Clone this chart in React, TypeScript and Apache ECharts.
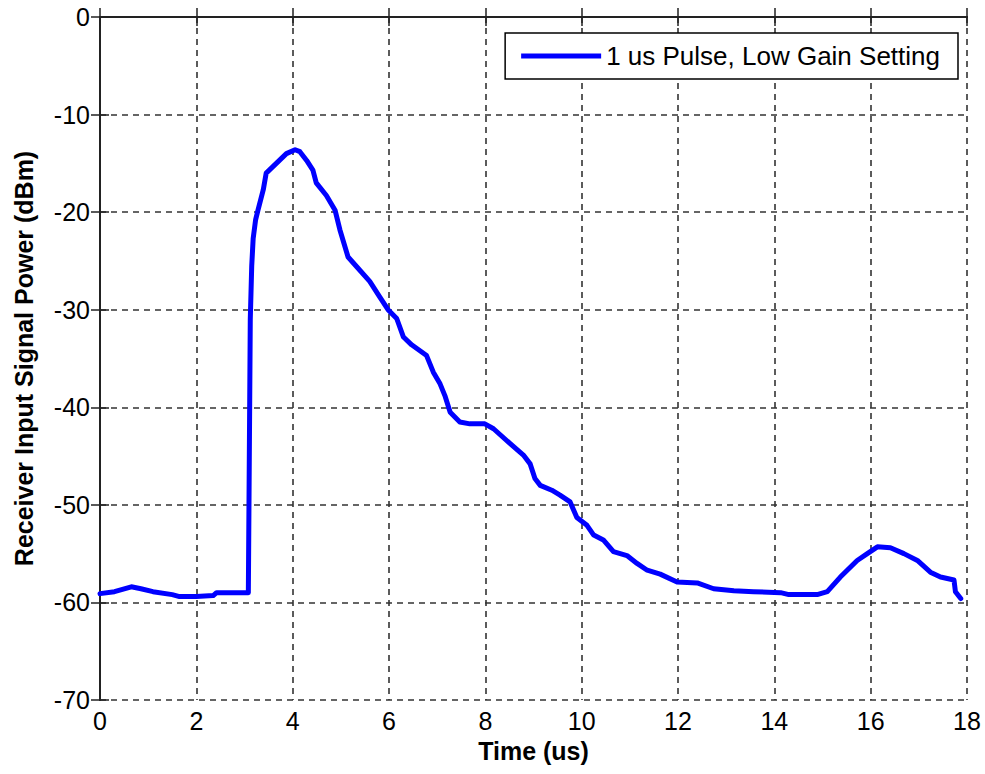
import React, { useEffect, useRef } from "react";
import * as echarts from "echarts";

// Received pulse power trace (time in microseconds, power in dBm)
const timeUs = [
  0, 0.3, 0.65, 0.85, 1.1, 1.5, 1.65, 2.0, 2.35, 2.42, 3.08, 3.12, 3.15, 3.18,
  3.23, 3.28, 3.39, 3.45, 3.66, 3.87, 4.05, 4.15, 4.29, 4.42, 4.49, 4.7, 4.88,
  4.98, 5.15, 5.33, 5.6, 5.81, 5.98, 6.16, 6.3, 6.47, 6.78, 6.92, 7.06, 7.16,
  7.27, 7.47, 7.68, 7.99, 8.17, 8.51, 8.79, 8.93, 9.03, 9.14, 9.38, 9.55, 9.76,
  9.9, 10.11, 10.25, 10.45, 10.66, 10.94, 11.15, 11.36, 11.63, 11.98, 12.4,
  12.74, 13.16, 13.57, 14.13, 14.3, 14.89, 15.1, 15.37, 15.72, 15.93, 16.14,
  16.41, 16.69, 16.97, 17.24, 17.45, 17.73, 17.76, 17.87,
];
const powerDbm = [
  -59.1, -58.9, -58.4, -58.6, -58.9, -59.2, -59.4, -59.4, -59.3, -59.0, -59.0,
  -31.0, -25.5, -22.7, -20.8, -19.8, -17.7, -16.0, -15.0, -14.0, -13.6, -13.8,
  -14.7, -15.7, -17.0, -18.3, -19.8, -21.8, -24.6, -25.6, -27.1, -28.7, -30.0,
  -30.9, -32.8, -33.6, -34.7, -36.4, -37.6, -38.8, -40.5, -41.5, -41.7, -41.7,
  -42.2, -43.7, -44.9, -45.8, -47.3, -48.0, -48.5, -49.0, -49.7, -51.3, -52.1,
  -53.1, -53.6, -54.8, -55.2, -56.0, -56.7, -57.1, -57.9, -58.0, -58.6, -58.8,
  -58.9, -59.0, -59.2, -59.2, -58.9, -57.4, -55.7, -55.0, -54.3, -54.4, -55.0,
  -55.7, -56.9, -57.4, -57.7, -58.9, -59.6,
];

const seriesName = "1 us Pulse, Low Gain Setting";
const xTitle = "Time (us)";
const yTitle = "Receiver Input Signal Power (dBm)";

const FONT = "'Liberation Sans', Arial, Helvetica, sans-serif";
const AXIS_COLOR = "#222";

export default function App() {
  const ref = useRef<HTMLDivElement>(null);

  useEffect(() => {
    if (!ref.current) return;
    const chart = echarts.init(ref.current, undefined, { renderer: "svg" });

    const axisLine = { show: true, lineStyle: { color: AXIS_COLOR, width: 2 } };
    const tick = { show: true, inside: true, length: 9, lineStyle: { color: AXIS_COLOR, width: 1.5 } };
    const grid = { show: true, lineStyle: { color: "#333", width: 1.6, type: [6, 5] as number[] } };
    const label = { color: "#000", fontFamily: FONT, fontSize: 25 };

    chart.setOption({
      animation: false,
      backgroundColor: "#fff",
      grid: { left: 100, right: 18, top: 17, bottom: 74, containLabel: false },
      legend: {
        data: [seriesName],
        right: 27,
        top: 33,
        icon: "rect",
        itemWidth: 80,
        itemHeight: 5,
        padding: [10, 18, 10, 16],
        borderColor: "#000",
        borderWidth: 1.5,
        borderRadius: 0,
        backgroundColor: "#fff",
        textStyle: { color: "#000", fontFamily: FONT, fontSize: 26 },
      },
      xAxis: [
        {
          type: "value",
          min: 0,
          max: 18,
          interval: 2,
          name: xTitle,
          nameLocation: "middle",
          nameGap: 38,
          nameTextStyle: { color: "#000", fontFamily: FONT, fontSize: 25, fontWeight: "bold" },
          axisLine,
          axisTick: tick,
          axisLabel: { ...label, margin: 8 },
          splitLine: grid,
        },
        {
          type: "value",
          position: "top",
          min: 0,
          max: 18,
          interval: 2,
          axisLine,
          axisTick: tick,
          axisLabel: { show: false },
          splitLine: { show: false },
        },
      ],
      yAxis: [
        {
          type: "value",
          min: -70,
          max: 0,
          interval: 10,
          name: yTitle,
          nameLocation: "middle",
          nameGap: 64,
          nameTextStyle: { color: "#000", fontFamily: FONT, fontSize: 25, fontWeight: "bold" },
          axisLine,
          axisTick: tick,
          axisLabel: { ...label, margin: 10 },
          splitLine: grid,
        },
        {
          type: "value",
          position: "right",
          min: -70,
          max: 0,
          interval: 10,
          axisLine,
          axisTick: tick,
          axisLabel: { show: false },
          splitLine: { show: false },
        },
      ],
      series: [
        {
          name: seriesName,
          type: "line",
          data: timeUs.map((t, i) => [t, powerDbm[i]]),
          showSymbol: false,
          symbol: "none",
          color: "#0000ff",
          lineStyle: { color: "#0000ff", width: 5, join: "round", cap: "round" },
          clip: false,
        },
      ],
    });

    return () => chart.dispose();
  }, []);

  return <div ref={ref} style={{ width: 985, height: 774, position: "absolute", left: 0, top: 0 }} />;
}
